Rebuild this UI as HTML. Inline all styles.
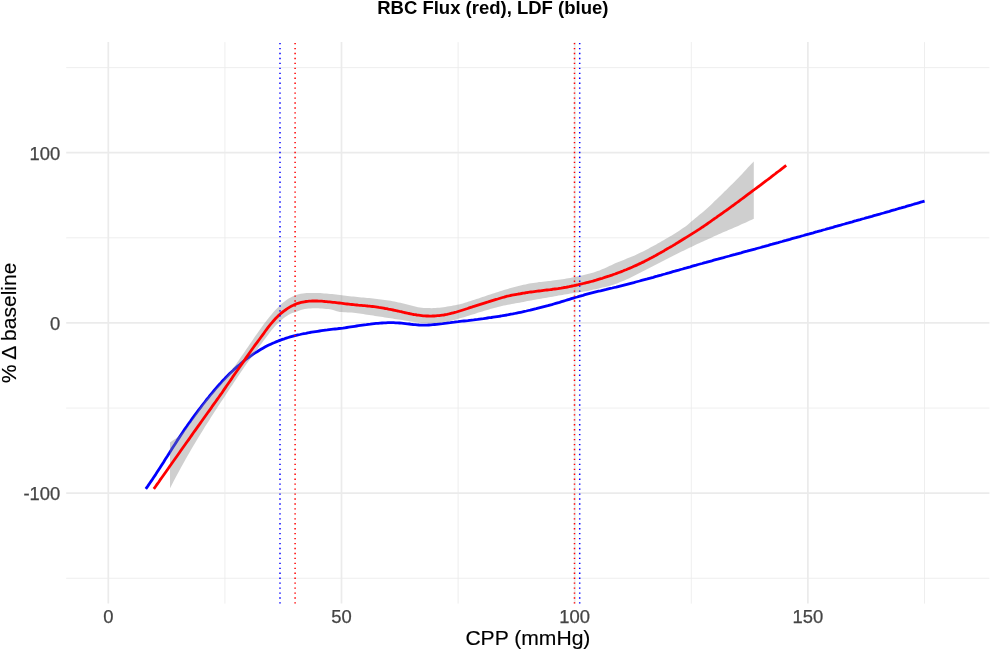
<!DOCTYPE html>
<html lang="en"><head><meta charset="utf-8"><title>RBC Flux (red), LDF (blue)</title>
<style>html,body{margin:0;padding:0;background:#fff;}body{width:990px;height:650px;position:relative;overflow:hidden;}</style></head>
<body>
<svg width="990" height="650" viewBox="0 0 990 650" style="display:block;position:absolute;left:0;top:0">
<rect width="990" height="650" fill="#fff"/>
<g stroke="#ebebeb" stroke-width="0.85" fill="none">
<path d="M66.2,578.29H989.4"/>
<path d="M66.2,408.06H989.4"/>
<path d="M66.2,237.83H989.4"/>
<path d="M66.2,67.60H989.4"/>
<path d="M224.90,42.1V603.6"/>
<path d="M458.10,42.1V603.6"/>
<path d="M691.30,42.1V603.6"/>
<path d="M924.50,42.1V603.6"/>
</g>
<g stroke="#ebebeb" stroke-width="1.7" fill="none">
<path d="M66.2,493.18H989.4"/>
<path d="M66.2,322.95H989.4"/>
<path d="M66.2,152.72H989.4"/>
<path d="M108.30,42.1V603.6"/>
<path d="M341.50,42.1V603.6"/>
<path d="M574.70,42.1V603.6"/>
<path d="M807.90,42.1V603.6"/>
</g>
<path d="M145.8,488.9 L147.8,486.1 L149.7,483.3 L151.7,480.4 L153.6,477.5 L155.6,474.6 L157.5,471.6 L159.5,468.5 L161.4,465.5 L163.4,462.4 L165.3,459.3 L167.3,456.3 L169.2,453.2 L171.2,450.1 L173.1,447.0 L175.1,444.0 L177.0,440.9 L179.0,437.9 L180.9,435.0 L182.9,432.0 L184.8,429.1 L186.8,426.3 L188.7,423.5 L190.7,420.8 L192.6,418.1 L194.6,415.4 L196.5,412.8 L198.5,410.2 L200.5,407.6 L202.4,405.0 L204.4,402.5 L206.3,400.0 L208.3,397.6 L210.2,395.2 L212.2,392.8 L214.1,390.5 L216.1,388.2 L218.0,386.0 L220.0,383.8 L221.9,381.6 L223.9,379.6 L225.8,377.5 L227.8,375.5 L229.7,373.6 L231.7,371.7 L233.6,369.9 L235.6,368.1 L237.5,366.4 L239.5,364.7 L241.4,363.0 L243.4,361.4 L245.3,359.9 L247.3,358.4 L249.2,357.0 L251.2,355.6 L253.2,354.2 L255.1,352.9 L257.1,351.7 L259.0,350.5 L261.0,349.3 L262.9,348.2 L264.9,347.1 L266.8,346.1 L268.8,345.1 L270.7,344.2 L272.7,343.3 L274.6,342.5 L276.6,341.6 L278.5,340.9 L280.5,340.1 L282.4,339.4 L284.4,338.8 L286.3,338.1 L288.3,337.5 L290.2,336.9 L292.2,336.4 L294.1,335.9 L296.1,335.4 L298.0,334.9 L300.0,334.5 L302.0,334.0 L303.9,333.6 L305.9,333.3 L307.8,332.9 L309.8,332.5 L311.7,332.2 L313.7,331.9 L315.6,331.6 L317.6,331.3 L319.5,331.0 L321.5,330.7 L323.4,330.4 L325.4,330.1 L327.3,329.9 L329.3,329.6 L331.2,329.4 L333.2,329.2 L335.1,329.0 L337.1,328.8 L339.0,328.5 L341.0,328.3 L342.9,328.1 L344.9,327.8 L346.8,327.5 L348.8,327.2 L350.7,326.9 L352.7,326.6 L354.7,326.3 L356.6,326.0 L358.6,325.7 L360.5,325.4 L362.5,325.1 L364.4,324.8 L366.4,324.6 L368.3,324.3 L370.3,324.1 L372.2,323.8 L374.2,323.6 L376.1,323.4 L378.1,323.3 L380.0,323.1 L382.0,323.0 L383.9,322.9 L385.9,322.8 L387.8,322.7 L389.8,322.7 L391.7,322.7 L393.7,322.7 L395.6,322.8 L397.6,322.9 L399.5,323.0 L401.5,323.2 L403.4,323.4 L405.4,323.6 L407.4,323.8 L409.3,324.0 L411.3,324.3 L413.2,324.5 L415.2,324.6 L417.1,324.8 L419.1,325.0 L421.0,325.1 L423.0,325.1 L424.9,325.2 L426.9,325.1 L428.8,325.0 L430.8,324.9 L432.7,324.7 L434.7,324.5 L436.6,324.4 L438.6,324.1 L440.5,323.9 L442.5,323.7 L444.4,323.4 L446.4,323.2 L448.3,322.9 L450.3,322.7 L452.2,322.4 L454.2,322.2 L456.1,321.9 L458.1,321.7 L460.1,321.4 L462.0,321.2 L464.0,321.0 L465.9,320.8 L467.9,320.6 L469.8,320.3 L471.8,320.1 L473.7,319.9 L475.7,319.6 L477.6,319.4 L479.6,319.1 L481.5,318.8 L483.5,318.6 L485.4,318.3 L487.4,318.0 L489.3,317.7 L491.3,317.5 L493.2,317.2 L495.2,316.9 L497.1,316.6 L499.1,316.3 L501.0,316.0 L503.0,315.6 L504.9,315.3 L506.9,315.0 L508.8,314.6 L510.8,314.2 L512.8,313.9 L514.7,313.5 L516.7,313.1 L518.6,312.7 L520.6,312.3 L522.5,311.9 L524.5,311.4 L526.4,311.0 L528.4,310.5 L530.3,310.1 L532.3,309.6 L534.2,309.1 L536.2,308.7 L538.1,308.2 L540.1,307.7 L542.0,307.2 L544.0,306.7 L545.9,306.2 L547.9,305.7 L549.8,305.1 L551.8,304.6 L553.7,304.0 L555.7,303.4 L557.6,302.8 L559.6,302.3 L561.6,301.7 L563.5,301.1 L565.5,300.5 L567.4,299.9 L569.4,299.3 L571.3,298.7 L573.3,298.1 L575.2,297.5 L577.2,297.0 L579.1,296.4 L581.1,295.8 L583.0,295.3 L585.0,294.7 L586.9,294.2 L588.9,293.7 L590.8,293.2 L592.8,292.7 L594.7,292.2 L596.7,291.7 L598.6,291.2 L600.6,290.8 L602.5,290.3 L604.5,289.8 L606.4,289.4 L608.4,288.9 L610.3,288.4 L612.3,288.0 L614.3,287.5 L616.2,287.1 L618.2,286.6 L620.1,286.1 L622.1,285.6 L624.0,285.1 L626.0,284.6 L627.9,284.1 L629.9,283.6 L631.8,283.1 L633.8,282.6 L635.7,282.0 L637.7,281.5 L639.6,281.0 L641.6,280.4 L643.5,279.9 L645.5,279.4 L647.4,278.9 L649.4,278.3 L651.3,277.8 L653.3,277.3 L655.2,276.7 L657.2,276.2 L659.1,275.6 L661.1,275.1 L663.0,274.5 L665.0,274.0 L667.0,273.4 L668.9,272.9 L670.9,272.3 L672.8,271.7 L674.8,271.2 L676.7,270.6 L678.7,270.1 L680.6,269.5 L682.6,269.0 L684.5,268.4 L686.5,267.9 L688.4,267.3 L690.4,266.8 L692.3,266.2 L694.3,265.6 L696.2,265.1 L698.2,264.5 L700.1,264.0 L702.1,263.5 L704.0,262.9 L706.0,262.4 L707.9,261.8 L709.9,261.3 L711.8,260.8 L713.8,260.2 L715.7,259.7 L717.7,259.2 L719.7,258.6 L721.6,258.1 L723.6,257.6 L725.5,257.0 L727.5,256.5 L729.4,256.0 L731.4,255.4 L733.3,254.9 L735.3,254.4 L737.2,253.8 L739.2,253.3 L741.1,252.8 L743.1,252.2 L745.0,251.7 L747.0,251.2 L748.9,250.6 L750.9,250.1 L752.8,249.6 L754.8,249.1 L756.7,248.5 L758.7,248.0 L760.6,247.5 L762.6,246.9 L764.5,246.4 L766.5,245.8 L768.4,245.3 L770.4,244.7 L772.4,244.2 L774.3,243.6 L776.3,243.1 L778.2,242.6 L780.2,242.0 L782.1,241.5 L784.1,240.9 L786.0,240.4 L788.0,239.8 L789.9,239.3 L791.9,238.7 L793.8,238.2 L795.8,237.7 L797.7,237.1 L799.7,236.6 L801.6,236.0 L803.6,235.5 L805.5,234.9 L807.5,234.4 L809.4,233.9 L811.4,233.3 L813.3,232.8 L815.3,232.2 L817.2,231.7 L819.2,231.1 L821.2,230.6 L823.1,230.0 L825.1,229.5 L827.0,228.9 L829.0,228.4 L830.9,227.8 L832.9,227.3 L834.8,226.7 L836.8,226.2 L838.7,225.6 L840.7,225.1 L842.6,224.5 L844.6,224.0 L846.5,223.4 L848.5,222.9 L850.4,222.3 L852.4,221.8 L854.3,221.2 L856.3,220.7 L858.2,220.1 L860.2,219.6 L862.1,219.0 L864.1,218.5 L866.0,217.9 L868.0,217.4 L869.9,216.8 L871.9,216.3 L873.9,215.7 L875.8,215.2 L877.8,214.6 L879.7,214.1 L881.7,213.5 L883.6,213.0 L885.6,212.4 L887.5,211.8 L889.5,211.3 L891.4,210.7 L893.4,210.1 L895.3,209.6 L897.3,209.0 L899.2,208.4 L901.2,207.9 L903.1,207.3 L905.1,206.8 L907.0,206.2 L909.0,205.6 L910.9,205.1 L912.9,204.5 L914.8,203.9 L916.8,203.4 L918.7,202.8 L920.7,202.2 L922.6,201.7 L924.6,201.1" stroke="#0000ff" stroke-width="2.8" fill="none" stroke-linejoin="round"/>
<path d="M170.0,442.6 L172.0,441.1 L173.9,439.7 L175.9,438.4 L177.8,436.9 L179.8,435.4 L181.7,433.6 L183.7,431.6 L185.6,429.3 L187.6,426.8 L189.5,424.0 L191.5,421.0 L193.4,417.9 L195.4,414.8 L197.3,411.7 L199.3,408.8 L201.2,406.0 L203.2,403.4 L205.1,400.9 L207.1,398.5 L209.1,396.3 L211.0,394.1 L213.0,391.9 L214.9,389.8 L216.9,387.7 L218.8,385.6 L220.8,383.4 L222.7,381.2 L224.7,378.9 L226.6,376.5 L228.6,374.1 L230.5,371.6 L232.5,369.0 L234.4,366.4 L236.4,363.7 L238.3,360.9 L240.3,358.1 L242.2,355.3 L244.2,352.4 L246.1,349.6 L248.1,346.7 L250.1,343.8 L252.0,340.9 L254.0,338.1 L255.9,335.3 L257.9,332.5 L259.8,329.7 L261.8,327.0 L263.7,324.3 L265.7,321.7 L267.6,319.2 L269.6,316.7 L271.5,314.4 L273.5,312.1 L275.4,309.9 L277.4,307.9 L279.3,305.9 L281.3,304.1 L283.2,302.4 L285.2,300.9 L287.2,299.5 L289.1,298.2 L291.1,297.2 L293.0,296.2 L295.0,295.4 L296.9,294.8 L298.9,294.3 L300.8,293.8 L302.8,293.5 L304.7,293.2 L306.7,293.1 L308.6,293.0 L310.6,292.9 L312.5,292.9 L314.5,292.9 L316.4,293.0 L318.4,293.0 L320.3,293.1 L322.3,293.2 L324.2,293.4 L326.2,293.5 L328.2,293.7 L330.1,293.9 L332.1,294.0 L334.0,294.3 L336.0,294.5 L337.9,294.7 L339.9,294.9 L341.8,295.2 L343.8,295.4 L345.7,295.7 L347.7,295.9 L349.6,296.2 L351.6,296.4 L353.5,296.6 L355.5,296.8 L357.4,297.0 L359.4,297.2 L361.3,297.4 L363.3,297.6 L365.3,297.7 L367.2,297.9 L369.2,298.1 L371.1,298.3 L373.1,298.5 L375.0,298.7 L377.0,298.9 L378.9,299.2 L380.9,299.4 L382.8,299.7 L384.8,299.9 L386.7,300.2 L388.7,300.5 L390.6,300.8 L392.6,301.2 L394.5,301.5 L396.5,301.9 L398.4,302.4 L400.4,302.8 L402.3,303.2 L404.3,303.7 L406.3,304.2 L408.2,304.7 L410.2,305.3 L412.1,305.8 L414.1,306.3 L416.0,306.8 L418.0,307.2 L419.9,307.6 L421.9,307.8 L423.8,308.0 L425.8,308.1 L427.7,308.1 L429.7,308.1 L431.6,308.2 L433.6,308.1 L435.5,308.0 L437.5,307.8 L439.4,307.7 L441.4,307.4 L443.4,307.2 L445.3,306.9 L447.3,306.6 L449.2,306.3 L451.2,306.0 L453.1,305.6 L455.1,305.2 L457.0,304.8 L459.0,304.4 L460.9,303.9 L462.9,303.4 L464.8,302.8 L466.8,302.2 L468.7,301.6 L470.7,300.9 L472.6,300.3 L474.6,299.7 L476.5,299.0 L478.5,298.4 L480.4,297.7 L482.4,297.1 L484.4,296.4 L486.3,295.8 L488.3,295.1 L490.2,294.4 L492.2,293.8 L494.1,293.2 L496.1,292.5 L498.0,291.9 L500.0,291.3 L501.9,290.7 L503.9,290.1 L505.8,289.5 L507.8,288.9 L509.7,288.3 L511.7,287.8 L513.6,287.2 L515.6,286.7 L517.5,286.2 L519.5,285.7 L521.5,285.2 L523.4,284.8 L525.4,284.4 L527.3,284.0 L529.3,283.6 L531.2,283.3 L533.2,283.0 L535.1,282.7 L537.1,282.4 L539.0,282.1 L541.0,281.9 L542.9,281.7 L544.9,281.5 L546.8,281.3 L548.8,281.1 L550.7,280.9 L552.7,280.6 L554.6,280.3 L556.6,280.1 L558.5,279.8 L560.5,279.5 L562.5,279.2 L564.4,278.9 L566.4,278.6 L568.3,278.3 L570.3,277.9 L572.2,277.5 L574.2,277.1 L576.1,276.7 L578.1,276.2 L580.0,275.7 L582.0,275.4 L583.9,275.0 L585.9,274.5 L587.8,274.1 L589.8,273.5 L591.7,273.0 L593.7,272.4 L595.6,271.8 L597.6,271.1 L599.6,270.4 L601.5,269.6 L603.5,268.8 L605.4,267.9 L607.4,267.0 L609.3,266.1 L611.3,265.2 L613.2,264.2 L615.2,263.3 L617.1,262.5 L619.1,261.8 L621.0,261.0 L623.0,260.2 L624.9,259.4 L626.9,258.6 L628.8,257.8 L630.8,257.0 L632.7,256.2 L634.7,255.4 L636.6,254.5 L638.6,253.6 L640.6,252.6 L642.5,251.7 L644.5,250.8 L646.4,249.8 L648.4,248.7 L650.3,247.6 L652.3,246.6 L654.2,245.5 L656.2,244.4 L658.1,243.3 L660.1,242.2 L662.0,241.1 L664.0,240.0 L665.9,238.8 L667.9,237.7 L669.8,236.6 L671.8,235.4 L673.7,234.2 L675.7,232.9 L677.7,231.7 L679.6,230.4 L681.6,229.1 L683.5,227.8 L685.5,226.4 L687.4,224.9 L689.4,223.3 L691.3,221.6 L693.3,219.9 L695.2,218.2 L697.2,216.7 L699.1,215.1 L701.1,213.5 L703.0,211.9 L705.0,210.2 L706.9,208.4 L708.9,206.7 L710.8,204.9 L712.8,203.0 L714.7,201.1 L716.7,199.2 L718.7,197.3 L720.6,195.4 L722.6,193.5 L724.5,191.6 L726.5,189.7 L728.4,187.7 L730.4,185.8 L732.3,183.9 L734.3,181.9 L736.2,180.0 L738.2,178.1 L740.1,176.1 L742.1,174.0 L744.0,171.8 L746.0,169.7 L747.9,167.6 L749.9,165.5 L751.8,163.4 L753.8,161.4 L753.8,218.8 L751.8,219.7 L749.9,220.6 L747.9,221.5 L746.0,222.4 L744.0,223.3 L742.1,224.1 L740.1,225.0 L738.2,225.9 L736.2,226.8 L734.3,227.6 L732.3,228.5 L730.4,229.3 L728.4,230.1 L726.5,231.0 L724.5,231.8 L722.6,232.6 L720.6,233.4 L718.7,234.3 L716.7,235.2 L714.7,236.1 L712.8,237.0 L710.8,237.9 L708.9,238.8 L706.9,239.7 L705.0,240.6 L703.0,241.4 L701.1,242.3 L699.1,243.2 L697.2,244.1 L695.2,245.0 L693.3,246.0 L691.3,246.9 L689.4,247.8 L687.4,248.8 L685.5,249.7 L683.5,250.7 L681.6,251.6 L679.6,252.6 L677.7,253.6 L675.7,254.6 L673.7,255.5 L671.8,256.4 L669.8,257.4 L667.9,258.4 L665.9,259.4 L664.0,260.4 L662.0,261.4 L660.1,262.5 L658.1,263.6 L656.2,264.6 L654.2,265.6 L652.3,266.6 L650.3,267.6 L648.4,268.6 L646.4,269.6 L644.5,270.6 L642.5,271.6 L640.6,272.6 L638.6,273.6 L636.6,274.6 L634.7,275.5 L632.7,276.5 L630.8,277.5 L628.8,278.4 L626.9,279.3 L624.9,280.2 L623.0,281.0 L621.0,281.8 L619.1,282.6 L617.1,283.4 L615.2,284.1 L613.2,284.7 L611.3,285.3 L609.3,285.9 L607.4,286.4 L605.4,286.9 L603.5,287.3 L601.5,287.7 L599.6,288.2 L597.6,288.7 L595.6,289.2 L593.7,289.6 L591.7,290.1 L589.8,290.5 L587.8,290.9 L585.9,291.3 L583.9,291.6 L582.0,291.9 L580.0,292.1 L578.1,292.4 L576.1,292.6 L574.2,292.8 L572.2,293.2 L570.3,293.5 L568.3,293.9 L566.4,294.3 L564.4,294.6 L562.5,295.0 L560.5,295.3 L558.5,295.6 L556.6,296.0 L554.6,296.3 L552.7,296.7 L550.7,297.0 L548.8,297.3 L546.8,297.7 L544.9,298.0 L542.9,298.3 L541.0,298.7 L539.0,299.0 L537.1,299.3 L535.1,299.7 L533.2,300.1 L531.2,300.4 L529.3,300.8 L527.3,301.1 L525.4,301.5 L523.4,301.9 L521.5,302.3 L519.5,302.7 L517.5,303.0 L515.6,303.3 L513.6,303.7 L511.7,304.0 L509.7,304.4 L507.8,304.8 L505.8,305.2 L503.9,305.6 L501.9,306.1 L500.0,306.5 L498.0,307.0 L496.1,307.5 L494.1,308.0 L492.2,308.6 L490.2,309.1 L488.3,309.7 L486.3,310.2 L484.4,310.8 L482.4,311.4 L480.4,312.0 L478.5,312.6 L476.5,313.2 L474.6,313.9 L472.6,314.5 L470.7,315.1 L468.7,315.7 L466.8,316.3 L464.8,316.9 L462.9,317.5 L460.9,318.0 L459.0,318.6 L457.0,319.2 L455.1,319.8 L453.1,320.3 L451.2,320.8 L449.2,321.3 L447.3,321.7 L445.3,322.1 L443.4,322.4 L441.4,322.7 L439.4,322.9 L437.5,323.1 L435.5,323.2 L433.6,323.3 L431.6,323.3 L429.7,323.3 L427.7,323.2 L425.8,323.2 L423.8,323.0 L421.9,322.9 L419.9,322.7 L418.0,322.5 L416.0,322.2 L414.1,321.9 L412.1,321.7 L410.2,321.4 L408.2,321.1 L406.3,320.7 L404.3,320.4 L402.3,320.1 L400.4,319.8 L398.4,319.5 L396.5,319.2 L394.5,318.9 L392.6,318.6 L390.6,318.3 L388.7,318.0 L386.7,317.7 L384.8,317.4 L382.8,317.1 L380.9,316.8 L378.9,316.5 L377.0,316.2 L375.0,315.9 L373.1,315.6 L371.1,315.3 L369.2,315.0 L367.2,314.7 L365.3,314.4 L363.3,314.1 L361.3,313.8 L359.4,313.5 L357.4,313.2 L355.5,312.9 L353.5,312.7 L351.6,312.6 L349.6,312.5 L347.7,312.4 L345.7,312.3 L343.8,312.2 L341.8,312.1 L339.9,312.0 L337.9,311.4 L336.0,310.9 L334.0,310.3 L332.1,309.8 L330.1,309.3 L328.2,309.1 L326.2,308.9 L324.2,308.7 L322.3,308.5 L320.3,308.4 L318.4,308.3 L316.4,308.3 L314.5,308.2 L312.5,308.3 L310.6,308.4 L308.6,308.5 L306.7,308.7 L304.7,309.1 L302.8,309.5 L300.8,310.1 L298.9,310.7 L296.9,311.5 L295.0,312.2 L293.0,312.8 L291.1,313.6 L289.1,314.6 L287.2,315.8 L285.2,317.1 L283.2,318.6 L281.3,320.2 L279.3,321.9 L277.4,323.8 L275.4,325.7 L273.5,327.9 L271.5,330.3 L269.6,332.8 L267.6,335.4 L265.7,338.0 L263.7,340.6 L261.8,343.2 L259.8,345.8 L257.9,348.5 L255.9,351.1 L254.0,353.7 L252.0,356.3 L250.1,359.0 L248.1,361.7 L246.1,364.5 L244.2,367.3 L242.2,370.2 L240.3,373.0 L238.3,375.9 L236.4,378.8 L234.4,381.7 L232.5,384.7 L230.5,387.6 L228.6,390.5 L226.6,393.5 L224.7,396.4 L222.7,399.4 L220.8,402.3 L218.8,405.3 L216.9,408.3 L214.9,411.3 L213.0,414.3 L211.0,417.3 L209.1,420.4 L207.1,423.5 L205.1,426.6 L203.2,429.7 L201.2,432.9 L199.3,436.0 L197.3,439.3 L195.4,442.5 L193.4,445.8 L191.5,449.1 L189.5,452.4 L187.6,455.8 L185.6,459.3 L183.7,462.7 L181.7,466.2 L179.8,469.8 L177.8,473.4 L175.9,477.0 L173.9,480.7 L172.0,484.5 L170.0,488.3Z" fill="#888888" fill-opacity="0.4" stroke="none"/>
<path d="M153.8,488.9 L155.4,486.7 L157.0,484.4 L158.6,482.2 L160.1,479.9 L161.7,477.7 L163.3,475.5 L164.9,473.2 L166.5,471.0 L168.1,468.7 L169.6,466.5 L171.2,464.2 L172.8,462.0 L174.4,459.8 L176.0,457.5 L177.6,455.3 L179.2,453.0 L180.7,450.8 L182.3,448.5 L183.9,446.3 L185.5,444.0 L187.1,441.8 L188.7,439.6 L190.3,437.3 L191.8,435.1 L193.4,432.8 L195.0,430.6 L196.6,428.4 L198.2,426.1 L199.8,423.9 L201.3,421.7 L202.9,419.5 L204.5,417.2 L206.1,415.0 L207.7,412.8 L209.3,410.6 L210.9,408.4 L212.4,406.1 L214.0,403.9 L215.6,401.7 L217.2,399.4 L218.8,397.2 L220.4,394.9 L222.0,392.7 L223.5,390.4 L225.1,388.1 L226.7,385.8 L228.3,383.5 L229.9,381.2 L231.5,378.9 L233.0,376.6 L234.6,374.2 L236.2,372.0 L237.8,369.8 L239.4,367.5 L241.0,365.3 L242.6,363.0 L244.1,360.7 L245.7,358.4 L247.3,356.1 L248.9,353.8 L250.5,351.5 L252.1,349.2 L253.7,347.0 L255.2,344.9 L256.8,342.8 L258.4,340.7 L260.0,338.5 L261.6,336.3 L263.2,334.2 L264.7,332.0 L266.3,329.8 L267.9,327.7 L269.5,325.6 L271.1,323.7 L272.7,321.8 L274.3,320.0 L275.8,318.3 L277.4,316.7 L279.0,315.1 L280.6,313.7 L282.2,312.4 L283.8,311.1 L285.4,310.0 L286.9,308.9 L288.5,307.9 L290.1,306.9 L291.7,306.0 L293.3,305.3 L294.9,304.5 L296.4,303.9 L298.0,303.3 L299.6,302.8 L301.2,302.4 L302.8,302.1 L304.4,301.8 L306.0,301.5 L307.5,301.3 L309.1,301.2 L310.7,301.1 L312.3,301.0 L313.9,301.0 L315.5,301.0 L317.1,301.0 L318.6,301.1 L320.2,301.1 L321.8,301.2 L323.4,301.3 L325.0,301.5 L326.6,301.6 L328.1,301.8 L329.7,301.9 L331.3,302.1 L332.9,302.3 L334.5,302.4 L336.1,302.6 L337.7,302.8 L339.2,303.0 L340.8,303.2 L342.4,303.4 L344.0,303.6 L345.6,303.8 L347.2,304.0 L348.8,304.2 L350.3,304.4 L351.9,304.5 L353.5,304.7 L355.1,304.9 L356.7,305.0 L358.3,305.2 L359.8,305.3 L361.4,305.4 L363.0,305.6 L364.6,305.7 L366.2,305.8 L367.8,306.0 L369.4,306.1 L370.9,306.3 L372.5,306.5 L374.1,306.7 L375.7,306.9 L377.3,307.1 L378.9,307.4 L380.4,307.6 L382.0,307.9 L383.6,308.2 L385.2,308.5 L386.8,308.7 L388.4,309.1 L390.0,309.4 L391.5,309.7 L393.1,310.0 L394.7,310.3 L396.3,310.7 L397.9,311.0 L399.5,311.4 L401.1,311.7 L402.6,312.1 L404.2,312.5 L405.8,312.8 L407.4,313.2 L409.0,313.5 L410.6,313.8 L412.1,314.2 L413.7,314.5 L415.3,314.7 L416.9,315.0 L418.5,315.2 L420.1,315.4 L421.7,315.6 L423.2,315.8 L424.8,315.9 L426.4,316.0 L428.0,316.0 L429.6,316.1 L431.2,316.1 L432.8,316.0 L434.3,316.0 L435.9,315.9 L437.5,315.7 L439.1,315.6 L440.7,315.4 L442.3,315.2 L443.8,315.0 L445.4,314.7 L447.0,314.4 L448.6,314.0 L450.2,313.6 L451.8,313.2 L453.4,312.8 L454.9,312.4 L456.5,312.0 L458.1,311.5 L459.7,311.0 L461.3,310.5 L462.9,310.0 L464.5,309.5 L466.0,309.0 L467.6,308.5 L469.2,307.9 L470.8,307.4 L472.4,306.9 L474.0,306.3 L475.5,305.8 L477.1,305.3 L478.7,304.8 L480.3,304.3 L481.9,303.8 L483.5,303.3 L485.1,302.8 L486.6,302.3 L488.2,301.9 L489.8,301.4 L491.4,300.9 L493.0,300.4 L494.6,299.9 L496.2,299.4 L497.7,299.0 L499.3,298.5 L500.9,298.0 L502.5,297.5 L504.1,297.1 L505.7,296.6 L507.2,296.2 L508.8,295.9 L510.4,295.5 L512.0,295.2 L513.6,294.9 L515.2,294.6 L516.8,294.3 L518.3,294.0 L519.9,293.8 L521.5,293.5 L523.1,293.2 L524.7,293.0 L526.3,292.7 L527.9,292.5 L529.4,292.2 L531.0,292.0 L532.6,291.8 L534.2,291.6 L535.8,291.4 L537.4,291.2 L538.9,291.0 L540.5,290.8 L542.1,290.6 L543.7,290.4 L545.3,290.2 L546.9,290.0 L548.5,289.8 L550.0,289.7 L551.6,289.5 L553.2,289.2 L554.8,289.0 L556.4,288.8 L558.0,288.6 L559.6,288.3 L561.1,288.1 L562.7,287.8 L564.3,287.5 L565.9,287.3 L567.5,287.0 L569.1,286.7 L570.6,286.3 L572.2,286.0 L573.8,285.7 L575.4,285.3 L577.0,285.0 L578.6,284.6 L580.2,284.2 L581.7,283.9 L583.3,283.5 L584.9,283.1 L586.5,282.7 L588.1,282.3 L589.7,281.9 L591.2,281.5 L592.8,281.1 L594.4,280.6 L596.0,280.2 L597.6,279.7 L599.2,279.2 L600.8,278.7 L602.3,278.3 L603.9,277.7 L605.5,277.2 L607.1,276.7 L608.7,276.2 L610.3,275.6 L611.9,275.1 L613.4,274.5 L615.0,274.0 L616.6,273.4 L618.2,272.8 L619.8,272.2 L621.4,271.6 L622.9,271.0 L624.5,270.3 L626.1,269.7 L627.7,269.0 L629.3,268.4 L630.9,267.7 L632.5,267.0 L634.0,266.3 L635.6,265.6 L637.2,264.9 L638.8,264.1 L640.4,263.4 L642.0,262.6 L643.6,261.9 L645.1,261.1 L646.7,260.3 L648.3,259.4 L649.9,258.6 L651.5,257.8 L653.1,256.9 L654.6,256.1 L656.2,255.2 L657.8,254.3 L659.4,253.4 L661.0,252.5 L662.6,251.6 L664.2,250.7 L665.7,249.7 L667.3,248.8 L668.9,247.9 L670.5,247.0 L672.1,246.1 L673.7,245.1 L675.3,244.2 L676.8,243.2 L678.4,242.3 L680.0,241.3 L681.6,240.3 L683.2,239.3 L684.8,238.3 L686.3,237.4 L687.9,236.4 L689.5,235.4 L691.1,234.4 L692.7,233.4 L694.3,232.4 L695.9,231.4 L697.4,230.4 L699.0,229.4 L700.6,228.3 L702.2,227.2 L703.8,226.2 L705.4,225.1 L707.0,224.0 L708.5,222.9 L710.1,221.8 L711.7,220.7 L713.3,219.5 L714.9,218.4 L716.5,217.3 L718.0,216.2 L719.6,215.1 L721.2,214.0 L722.8,212.9 L724.4,211.7 L726.0,210.6 L727.6,209.5 L729.1,208.3 L730.7,207.2 L732.3,206.0 L733.9,204.9 L735.5,203.7 L737.1,202.5 L738.7,201.3 L740.2,200.2 L741.8,199.0 L743.4,197.8 L745.0,196.6 L746.6,195.4 L748.2,194.2 L749.7,193.1 L751.3,191.9 L752.9,190.7 L754.5,189.5 L756.1,188.3 L757.7,187.1 L759.3,186.0 L760.8,184.8 L762.4,183.6 L764.0,182.4 L765.6,181.2 L767.2,180.0 L768.8,178.8 L770.4,177.6 L771.9,176.4 L773.5,175.2 L775.1,174.0 L776.7,172.7 L778.3,171.5 L779.9,170.3 L781.4,169.1 L783.0,167.9 L784.6,166.6 L786.2,165.4" stroke="#ff0000" stroke-width="2.8" fill="none" stroke-linejoin="round"/>
<path d="M280.0,603.6V42.1" stroke="#0000ff" stroke-width="1.5" stroke-dasharray="1.35 3.6" stroke-dashoffset="0.05" fill="none"/>
<path d="M579.7,603.6V42.1" stroke="#0000ff" stroke-width="1.5" stroke-dasharray="1.35 3.6" stroke-dashoffset="0.05" fill="none"/>
<path d="M295.1,603.6V42.1" stroke="#ff0000" stroke-width="1.5" stroke-dasharray="1.35 3.6" stroke-dashoffset="0.05" fill="none"/>
<path d="M574.5,603.6V42.1" stroke="#ff0000" stroke-width="1.5" stroke-dasharray="1.35 3.6" stroke-dashoffset="0.05" fill="none"/>
<g font-family="Liberation Sans, Arial, Helvetica, sans-serif" font-size="18.4" fill="#444" stroke="#444" stroke-width="0.25" text-anchor="end">
<text x="60.3" y="159.6">100</text>
<text x="60.3" y="329.8">0</text>
<text x="60.3" y="500.1">-100</text>
</g>
<g font-family="Liberation Sans, Arial, Helvetica, sans-serif" font-size="18.4" fill="#444" stroke="#444" stroke-width="0.25" text-anchor="middle">
<text x="108.3" y="622.8">0</text>
<text x="341.5" y="622.8">50</text>
<text x="574.7" y="622.8">100</text>
<text x="807.9" y="622.8">150</text>
</g>
<text font-family="Liberation Sans, Arial, Helvetica, sans-serif" font-size="21.1" fill="#000" stroke="#000" stroke-width="0.15" text-anchor="middle" x="527.9" y="645.0">CPP (mmHg)</text>
<text font-family="Liberation Sans, Arial, Helvetica, sans-serif" font-size="21.1" fill="#000" stroke="#000" stroke-width="0.15" text-anchor="middle" transform="translate(16.0,322.9) rotate(-90)">% Δ baseline</text>
<text font-family="Liberation Sans, Arial, Helvetica, sans-serif" font-size="18.5" font-weight="bold" fill="#000" text-anchor="middle" x="492.8" y="14.0">RBC Flux (red), LDF (blue)</text>
</svg>
</body></html>
